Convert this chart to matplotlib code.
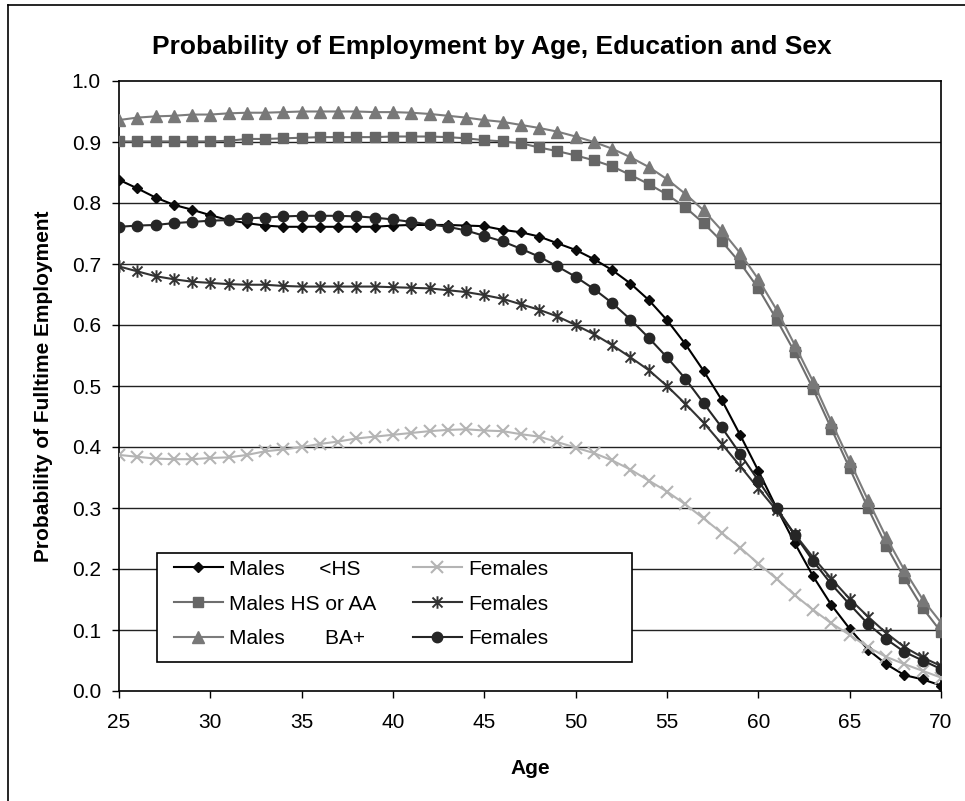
import matplotlib
matplotlib.use("Agg")
import matplotlib.pyplot as plt
from matplotlib.path import Path
from matplotlib.patches import Rectangle
from matplotlib.lines import Line2D

plt.rcParams['font.family'] = ['Liberation Sans', 'DejaVu Sans']

ages = list(range(25, 71))

males_lt_hs = [0.838, 0.824, 0.809, 0.797, 0.789, 0.780, 0.772, 0.767, 0.763, 0.761,
               0.761, 0.761, 0.761, 0.761, 0.761, 0.763, 0.764, 0.764, 0.764, 0.763,
               0.762, 0.756, 0.752, 0.745, 0.734, 0.723, 0.708, 0.690, 0.668, 0.641,
               0.608, 0.569, 0.525, 0.477, 0.420, 0.361, 0.300, 0.242, 0.188, 0.141,
               0.102, 0.068, 0.044, 0.026, 0.019, 0.009]
males_hs = [0.901, 0.901, 0.901, 0.901, 0.901, 0.901, 0.902, 0.905, 0.905, 0.906,
            0.907, 0.908, 0.908, 0.908, 0.908, 0.909, 0.909, 0.909, 0.908, 0.906,
            0.903, 0.901, 0.898, 0.891, 0.885, 0.878, 0.870, 0.860, 0.846, 0.831,
            0.814, 0.793, 0.767, 0.737, 0.702, 0.660, 0.609, 0.555, 0.495, 0.430,
            0.365, 0.300, 0.238, 0.185, 0.136, 0.097]
males_ba = [0.936, 0.940, 0.942, 0.943, 0.945, 0.945, 0.947, 0.948, 0.948, 0.949,
            0.950, 0.950, 0.950, 0.950, 0.949, 0.949, 0.948, 0.946, 0.943, 0.940,
            0.936, 0.933, 0.928, 0.923, 0.917, 0.909, 0.900, 0.889, 0.875, 0.859,
            0.839, 0.815, 0.788, 0.755, 0.718, 0.675, 0.625, 0.567, 0.507, 0.441,
            0.377, 0.313, 0.252, 0.198, 0.150, 0.112]
fem_lt_hs = [0.387, 0.384, 0.381, 0.380, 0.380, 0.382, 0.383, 0.387, 0.393, 0.396,
             0.400, 0.405, 0.409, 0.414, 0.417, 0.420, 0.423, 0.426, 0.428, 0.429,
             0.427, 0.426, 0.421, 0.417, 0.408, 0.399, 0.390, 0.378, 0.363, 0.345,
             0.327, 0.306, 0.283, 0.259, 0.235, 0.209, 0.184, 0.157, 0.133, 0.111,
             0.092, 0.072, 0.056, 0.044, 0.033, 0.022]
fem_hs = [0.696, 0.688, 0.680, 0.675, 0.671, 0.669, 0.667, 0.666, 0.666, 0.664,
          0.663, 0.663, 0.663, 0.663, 0.663, 0.662, 0.661, 0.660, 0.657, 0.654,
          0.649, 0.643, 0.634, 0.625, 0.614, 0.600, 0.585, 0.567, 0.547, 0.526,
          0.500, 0.471, 0.440, 0.405, 0.369, 0.332, 0.296, 0.257, 0.219, 0.184,
          0.151, 0.122, 0.095, 0.072, 0.055, 0.041]
fem_ba = [0.761, 0.763, 0.764, 0.767, 0.769, 0.771, 0.772, 0.775, 0.776, 0.778,
          0.779, 0.779, 0.779, 0.778, 0.776, 0.773, 0.769, 0.765, 0.761, 0.755,
          0.746, 0.737, 0.725, 0.712, 0.696, 0.679, 0.659, 0.636, 0.609, 0.579,
          0.547, 0.512, 0.472, 0.432, 0.389, 0.345, 0.300, 0.256, 0.213, 0.175,
          0.142, 0.110, 0.085, 0.064, 0.050, 0.036]

labels = ["Males      <HS", "Males HS or AA", "Males       BA+",
          "Females", "Females", "Females"]

# excel-style star: an x with a vertical bar
star = Path([(-1, -1), (1, 1), (-1, 1), (1, -1), (0, -1.25), (0, 1.25)],
            [Path.MOVETO, Path.LINETO, Path.MOVETO, Path.LINETO, Path.MOVETO, Path.LINETO])

fig = plt.figure(figsize=(9.65, 8.01), dpi=100)
ax = fig.add_axes([119 / 965, 1 - 691 / 801, 822 / 965, 610 / 801])

for y in [0.1, 0.2, 0.3, 0.4, 0.5, 0.6, 0.7, 0.8, 0.9]:
    ax.axhline(y, color='#222222', lw=1.0, zorder=1)

h1, = ax.plot(ages, males_lt_hs, color='#000000', lw=1.5, marker='D', ms=5.5,
              mfc='#0a0a0a', mec='#0a0a0a', zorder=3)
h2, = ax.plot(ages, males_hs, color='#6e6e6e', lw=1.5, marker='s', ms=7.5,
              mfc='#666666', mec='#666666', zorder=3)
h3, = ax.plot(ages, males_ba, color='#7c7c7c', lw=1.5, marker='^', ms=8.5,
              mfc='#787878', mec='#787878', zorder=3)
h4, = ax.plot(ages, fem_lt_hs, color='#b4b4b4', lw=1.5, marker='x', ms=8.5, mew=1.5,
              mec='#b4b4b4', zorder=3)
h5, = ax.plot(ages, fem_hs, color='#333333', lw=1.5, marker=star, ms=9, mew=1.4,
              mfc='none', mec='#333333', zorder=3)
h6, = ax.plot(ages, fem_ba, color='#262626', lw=1.5, marker='o', ms=7.5,
              mfc='#262626', mec='#262626', zorder=3)

ax.set_xlim(25, 70)
ax.set_ylim(0, 1.0)
ax.set_xticks([25, 30, 35, 40, 45, 50, 55, 60, 65, 70])
ax.set_yticks([0.0, 0.1, 0.2, 0.3, 0.4, 0.5, 0.6, 0.7, 0.8, 0.9, 1.0])
ax.set_yticklabels(['0.0', '0.1', '0.2', '0.3', '0.4', '0.5', '0.6', '0.7', '0.8', '0.9', '1.0'])
ax.tick_params(axis='both', direction='out', length=5, width=1, labelsize=15, color='#000000')
ax.tick_params(axis='x', pad=11)
ax.tick_params(axis='y', pad=8)
for s in ax.spines.values():
    s.set_color('#000000')
    s.set_linewidth(1.2)

ax.set_xlabel('Age', fontsize=15, fontweight='bold', va='center')
ax.xaxis.set_label_coords(0.5, (691 - 768) / 610)
ax.set_ylabel('Probability of Fulltime Employment', fontsize=15, fontweight='bold', va='center')
ax.yaxis.set_label_coords((44 - 119) / 822, 0.5)

fig.text(492 / 965, 1 - 47 / 801, 'Probability of Employment by Age, Education and Sex',
         fontsize=19, fontweight='bold', ha='center', va='center')

# legend frame drawn by hand so it can be wider than its content
ax.add_patch(Rectangle(((157 - 119) / 822, (691 - 662) / 610), (632 - 157) / 822, (662 - 553) / 610,
                       transform=ax.transAxes, facecolor='white', edgecolor='#000000',
                       lw=1.2, zorder=5))
leg = ax.legend([h1, h2, h3, h4, h5, h6], labels, ncol=2, frameon=False,
                loc='center left', bbox_to_anchor=((174 - 119) / 822, (691 - 604) / 610),
                borderpad=0, borderaxespad=0, handlelength=2.35, handletextpad=0.3,
                columnspacing=1.74, labelspacing=0.76, fontsize=15)
leg.set_zorder(6)

# outer chart border (only left and top show in the picture)
fig.add_artist(Line2D([8 / 965, 8 / 965], [0, 1 - 5 / 801], transform=fig.transFigure,
                      color='#000000', lw=1.2))
fig.add_artist(Line2D([8 / 965, 1], [1 - 5 / 801, 1 - 5 / 801], transform=fig.transFigure,
                      color='#000000', lw=1.2))

fig.savefig('out.png', dpi=100)
